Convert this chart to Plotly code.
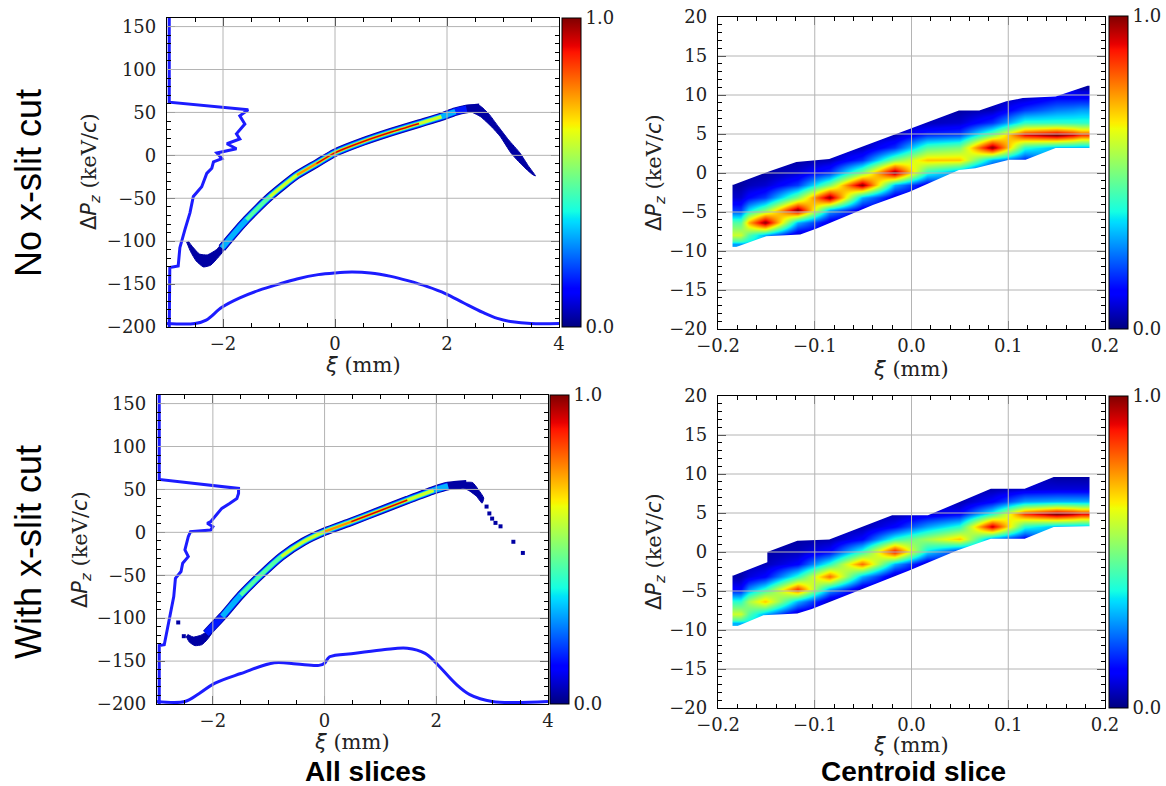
import plotly.graph_objects as go

W, H = 1166, 786

# matplotlib-like "jet" colour scale
JET = [[0.0, 'rgb(0,0,128)'], [0.11, 'rgb(0,0,255)'], [0.125, 'rgb(0,0,255)'],
       [0.34, 'rgb(0,219,255)'], [0.35, 'rgb(0,229,247)'], [0.375, 'rgb(21,255,226)'],
       [0.64, 'rgb(238,255,8)'], [0.65, 'rgb(247,245,0)'], [0.66, 'rgb(255,236,0)'],
       [0.89, 'rgb(255,19,0)'], [0.91, 'rgb(232,0,0)'], [1.0, 'rgb(128,0,0)']]

# ------------------------------------------------------------------ data
# Top-left panel (no x-slit cut, all slices): beam core centre line + peak density
tl_core_xi = [-2.02, -1.80, -1.58, -1.37, -1.16, -0.92, -0.68, -0.33, 0.00, 0.50, 1.00, 1.50, 1.90, 2.15, 2.35, 2.58]
tl_core_pz = [-108, -91, -75, -61, -48, -35, -23, -9.6, 3.0, 16, 27, 37, 45, 51, 54, 55.5]
tl_core_peak = [0.28, 0.35, 0.42, 0.50, 0.60, 0.68, 0.75, 0.85, 0.90, 0.92, 0.92, 0.88, 0.60, 0.40, 0.20, 0.05]
# low-density hook (head) and tail outlines
tl_hook_xi = [-2.65, -2.58, -2.48, -2.35, -2.22, -2.10, -1.98, -2.00, -2.12, -2.28, -2.42, -2.55, -2.62]
tl_hook_pz = [-101, -112, -123, -130, -128, -120, -110, -102, -110, -116, -115, -106, -100]
tl_tail_xi = [2.30, 2.58, 2.75, 2.90, 3.10, 3.30, 3.45, 3.58, 3.52, 3.35, 3.15, 2.95, 2.80, 2.60, 2.45, 2.30]
tl_tail_pz = [58, 58, 48, 35, 18, 3, -12, -24, -22, -12, 2, 22, 33, 45, 50, 50]
# projections (left: ΔPz profile, bottom: ξ profile)
tl_ppz_xi = [-2.96, -2.96, -2.95, -2.80, -2.77, -2.68, -2.59, -2.53, -2.38, -2.29, -2.20, -2.17, -2.02, -2.11,
             -1.76, -1.93, -1.70, -1.76, -1.61, -1.70, -1.55, -2.96, -2.96]
tl_ppz_pz = [-200, -131, -130.7, -128.8, -107.6, -86.5, -67, -48, -36.5, -21, -15, -7.7, -3.8, 2.7,
             7.7, 13.5, 19, 25, 36.5, 46, 53, 62, 160]
tl_pxi_xi = [-3.0, -2.5, -2.3, -2.02, -1.7, -1.35, -1.0, -0.68, -0.3, 0.0, 0.3, 0.63, 1.0, 1.3, 1.65, 1.97,
             2.3, 2.64, 2.9, 3.17, 3.5, 4.0]
tl_pxi_pz = [-196, -196, -192, -177, -166, -157, -150, -144, -139, -137, -136, -137, -141, -146, -153, -161,
             -172, -183, -190, -194, -196, -196]

# Bottom-left panel (with x-slit cut, all slices)
bl_core_xi = [-2.12, -1.83, -1.50, -1.17, -0.77, -0.38, 0.00, 0.48, 1.02, 1.48, 1.95, 2.21, 2.54]
bl_core_pz = [-118, -98, -73, -51.5, -28, -11, 0.8, 12.4, 26, 37.6, 49, 54, 56]
bl_core_peak = [0.15, 0.30, 0.42, 0.50, 0.55, 0.62, 0.75, 0.85, 0.90, 0.85, 0.55, 0.30, 0.05]
bl_hook_xi = [-2.48, -2.42, -2.32, -2.20, -2.10, -2.02, -2.10, -2.22, -2.35, -2.45]
bl_hook_pz = [-121, -128, -132, -131, -125, -117, -116, -120, -122, -119]
bl_tail_xi = [2.45, 2.65, 2.75, 2.85, 2.82, 2.72, 2.60, 2.45]
bl_tail_pz = [58, 58, 50, 40, 34, 42, 48, 53]
bl_dots_xi = [-2.62, -2.52, 2.90, 2.95, 3.00, 3.06, 3.15, 3.38, 3.55]
bl_dots_pz = [-105, -121, 30, 22, 16, 11, 7, -11, -24]
bl_ppz_xi = [-2.96, -2.96, -2.87, -2.84, -2.77, -2.70, -2.67, -2.57, -2.54, -2.44, -2.50, -2.47, -2.44, -2.40,
             -2.04, -2.00, -2.10, -2.04, -1.97, -1.84, -1.70, -1.57, -1.54, -1.54, -2.96, -2.96]
bl_ppz_pz = [-200, -132, -131, -121, -102, -74.8, -53.5, -45.7, -36, -28.3, -20.5, -12.8, -5, 0.8,
             2.7, 6.6, 10.5, 12.4, 18.2, 27.9, 33.7, 39.5, 45.3, 51.2, 61.6, 160]
bl_pxi_xi = [-3.0, -2.5, -2.25, -1.97, -1.5, -0.9, -0.5, -0.1, 0.0, 0.09, 0.55, 1.08, 1.48, 1.8, 2.0, 2.34,
             2.6, 3.0, 4.0]
bl_pxi_pz = [-197, -197, -188, -176, -164.5, -152, -153.5, -155, -152.5, -145, -141, -136.5, -135, -141,
             -152.5, -176, -189, -197, -197]

# Centroid-slice panels: coarse 2-D histogram (bin centres, first filled row per column, values)
cs_xi = [-0.185, -0.1515, -0.118, -0.0845, -0.051, -0.0175, 0.016, 0.0495, 0.083, 0.1165, 0.15, 0.1835]
cs_pz = [-9.5, -7.9, -6.3, -4.7, -3.1, -1.5, 0.1, 1.7, 3.3, 4.9, 6.5, 8.1, 9.7, 11.3]
tr_start = [0, 1, 1, 2, 3, 4, 5, 6, 6, 7, 8, 8]
tr_vals = [
    [0.28, 0.60, 0.45, 0.18, 0.07, 0.03],
    [0.30, 1.00, 0.50, 0.18, 0.07, 0.03],
    [0.05, 0.30, 1.00, 0.50, 0.18, 0.07, 0.03],
    [0.08, 0.30, 1.00, 0.50, 0.17, 0.05],
    [0.08, 0.30, 1.00, 0.50, 0.17, 0.05],
    [0.08, 0.30, 1.00, 0.50, 0.17, 0.05],
    [0.08, 0.40, 0.70, 0.45, 0.17, 0.05],
    [0.25, 0.70, 0.50, 0.20, 0.07, 0.03],
    [0.05, 0.30, 1.00, 0.50, 0.17, 0.05],
    [0.15, 0.40, 0.90, 0.40, 0.18, 0.06],
    [0.30, 1.00, 0.40, 0.25, 0.12],
    [0.30, 0.85, 0.40, 0.28, 0.12, 0.03],
]
# outline of the filled region (upper / lower edge)
tr_up_xi = [-0.184, -0.143, -0.119, -0.085, -0.040, -0.002, 0.049, 0.070, 0.098, 0.115, 0.149, 0.182]
tr_up_pz = [-1.5, 0.4, 1.4, 1.8, 3.9, 5.6, 8.0, 8.0, 9.2, 9.6, 9.8, 11.2]
tr_lo_xi = [-0.184, -0.150, -0.115, -0.098, -0.040, -0.002, 0.049, 0.066, 0.090, 0.101, 0.118, 0.149, 0.182]
tr_lo_pz = [-9.6, -8.1, -7.9, -7.1, -4.1, -2.4, 0.4, 0.6, 1.3, 1.7, 1.7, 3.2, 3.2]

br_start = [0, 1, 1, 2, 3, 4, 5, 6, 7, 7, 8, 8]
br_vals = [
    [0.30, 0.60, 0.40, 0.12, 0.04],
    [0.30, 0.70, 0.40, 0.12, 0.05, 0.03],
    [0.05, 0.30, 0.85, 0.40, 0.12, 0.05, 0.03],
    [0.05, 0.30, 0.80, 0.40, 0.12, 0.04],
    [0.05, 0.30, 0.80, 0.40, 0.12, 0.04],
    [0.05, 0.30, 0.90, 0.40, 0.12, 0.04],
    [0.05, 0.35, 0.55, 0.28, 0.08],
    [0.15, 0.70, 0.40, 0.12, 0.04],
    [0.25, 0.95, 0.40, 0.12, 0.04],
    [0.10, 0.40, 0.85, 0.28, 0.07],
    [0.30, 1.00, 0.30, 0.08, 0.03],
    [0.30, 0.90, 0.30, 0.08, 0.03],
]
br_up_xi = [-0.184, -0.149, -0.149, -0.118, -0.085, -0.020, 0.017, 0.082, 0.117, 0.147, 0.182]
br_up_pz = [-3.0, -1.3, 0.0, 1.45, 1.6, 4.7, 4.7, 8.1, 8.1, 9.6, 9.6]
br_lo_xi = [-0.184, -0.153, -0.118, -0.103, -0.049, -0.003, 0.047, 0.082, 0.117, 0.147, 0.182]
br_lo_pz = [-9.7, -8.1, -7.9, -7.3, -4.7, -2.4, 0.2, 1.7, 1.7, 3.2, 3.3]

# ------------------------------------------------------------------ helpers
def jet(v):
    for (a, ca), (b, cb) in zip(JET[:-1], JET[1:]):
        if a <= v <= b:
            f = 0 if b == a else (v - a) / (b - a)
            pa = [int(t) for t in ca[4:-1].split(',')]
            pb = [int(t) for t in cb[4:-1].split(',')]
            return 'rgb(%d,%d,%d)' % tuple(round(p + f * (q - p)) for p, q in zip(pa, pb))
    return JET[-1][1]


def build_z(starts, cols, nrows):
    """Place each column's values; pad one cell either side with the edge value
    (the outline mask below trims the region to its true edge)."""
    z = [[None] * len(cols) for _ in range(nrows)]
    for j, (s, vals) in enumerate(zip(starts, cols)):
        for k, v in enumerate(vals):
            z[s + k][j] = v
        if s - 1 >= 0:
            z[s - 1][j] = vals[0]
        if s + len(vals) < nrows:
            z[s + len(vals)][j] = vals[-1]
    return z


def edges(c):
    return [c[0]] + [(a + b) / 2 for a, b in zip(c[:-1], c[1:])] + [c[-1]]


NAVY = jet(0.03)
PROJ = 'rgb(28,28,255)'
BAND_LAYERS = [(0.0, 8.5, 0.03), (0.15, 7.0, 0.15), (0.28, 5.5, 0.3), (0.42, 4.0, 0.45),
               (0.55, 3.0, 0.6), (0.7, 2.2, 0.76), (0.82, 1.3, 0.93)]

fig = go.Figure()


def add_band(xa, ya, xi, pz, peak):
    for thr, w, lev in BAND_LAYERS:
        xs, ys, run = [], [], []
        for a, b, p in list(zip(xi, pz, peak)) + [(None, None, -1)]:
            if p >= thr:
                run.append((a, b))
            else:
                if len(run) > 1:
                    xs += [r[0] for r in run] + [None]
                    ys += [r[1] for r in run] + [None]
                run = []
        if xs:
            fig.add_trace(go.Scatter(x=xs, y=ys, mode='lines', xaxis=xa, yaxis=ya, hoverinfo='skip',
                                     line=dict(color=jet(lev), width=w, shape='spline', smoothing=0.6)))


def add_poly(xa, ya, xi, pz):
    fig.add_trace(go.Scatter(x=xi, y=pz, mode='lines', fill='toself', fillcolor=NAVY, xaxis=xa, yaxis=ya,
                             line=dict(color=NAVY, width=1, shape='spline', smoothing=0.5), hoverinfo='skip'))


def add_proj(xa, ya, xi, pz, shape):
    fig.add_trace(go.Scatter(x=xi, y=pz, mode='lines', xaxis=xa, yaxis=ya, hoverinfo='skip',
                             line=dict(color=PROJ, width=3, shape=shape)))


def add_mask(xa, ya, xi, pz, beyond):
    xs = [-0.2] + list(xi) + [0.2, 0.2, -0.2]
    ys = [pz[0]] + list(pz) + [pz[-1], beyond, beyond]
    fig.add_trace(go.Scatter(x=xs, y=ys, mode='lines', fill='toself', fillcolor='white', xaxis=xa, yaxis=ya,
                             line=dict(width=0, color='white'), hoverinfo='skip'))


def cbar(xpx, top, bot):
    return dict(x=xpx / W, xanchor='left', xpad=0, thickness=19, lenmode='fraction',
                len=(bot - top) / H, y=1 - (top + bot) / 2 / H, yanchor='middle', ypad=0,
                outlinewidth=1, outlinecolor='black', ticks='inside', ticklen=5, tickcolor='black',
                tickvals=[0, 1.0], ticktext=['0.0', '1.0'],
                tickfont=dict(family='DejaVu Serif', size=18, color='#222'))


# ---- left panels
for xa, ya, core, hook, tail, ppz, pxi, cb in [
    ('x', 'y', (tl_core_xi, tl_core_pz, tl_core_peak), (tl_hook_xi, tl_hook_pz), (tl_tail_xi, tl_tail_pz),
     (tl_ppz_xi, tl_ppz_pz), (tl_pxi_xi, tl_pxi_pz), cbar(562, 18, 327)),
    ('x3', 'y3', (bl_core_xi, bl_core_pz, bl_core_peak), (bl_hook_xi, bl_hook_pz), (bl_tail_xi, bl_tail_pz),
     (bl_ppz_xi, bl_ppz_pz), (bl_pxi_xi, bl_pxi_pz), cbar(550, 395, 704)),
]:
    add_proj(xa, ya, *ppz, 'linear')
    add_proj(xa, ya, *pxi, 'spline')
    add_poly(xa, ya, *hook)
    add_poly(xa, ya, *tail)
    add_band(xa, ya, *core)
    # colour bar carrier
    fig.add_trace(go.Scatter(x=[-10], y=[-1000], mode='markers', xaxis=xa, yaxis=ya, hoverinfo='skip',
                             marker=dict(color=[0.5], cmin=0, cmax=1, colorscale=JET, showscale=True,
                                         colorbar=cb, size=1)))

fig.add_trace(go.Scatter(x=bl_dots_xi, y=bl_dots_pz, mode='markers', xaxis='x3', yaxis='y3', hoverinfo='skip',
                         marker=dict(color=NAVY, size=4, symbol='square')))

# ---- centroid slice panels
for xa, ya, starts, vals, up, lo, cb in [
        ('x2', 'y2', tr_start, tr_vals, (tr_up_xi, tr_up_pz), (tr_lo_xi, tr_lo_pz), cbar(1109, 16, 329)),
        ('x4', 'y4', br_start, br_vals, (br_up_xi, br_up_pz), (br_lo_xi, br_lo_pz), cbar(1109, 396, 708))]:
    fig.add_trace(go.Heatmap(x=edges(cs_xi), y=edges(cs_pz), z=build_z(starts, vals, len(cs_pz)),
                             zsmooth='best', colorscale=JET, zmin=0, zmax=1, colorbar=cb,
                             xaxis=xa, yaxis=ya, hoverinfo='skip'))
    add_mask(xa, ya, *up, 14)
    add_mask(xa, ya, *lo, -12)

# ------------------------------------------------------------------ axes
TICKFONT = dict(family='DejaVu Serif', size=18, color='#222')


def ax(dom, rng, dtick, mdtick, anchor, fmt=None, standoff=0):
    d = dict(domain=dom, range=rng, anchor=anchor, showgrid=False, zeroline=False, showline=True,
             linecolor='black', linewidth=1.3, mirror='allticks', ticks='inside', ticklen=8, tickwidth=1,
             tickcolor='black', tick0=0, dtick=dtick, tickfont=TICKFONT, fixedrange=True,
             ticklabelstandoff=standoff,
             minor=dict(ticks='inside', ticklen=4, tickwidth=1, tickcolor='black', dtick=mdtick, tick0=0,
                        showgrid=False))
    if fmt:
        d['tickformat'] = fmt
    return d


def xdom(a, b):
    return [a / W, b / W]


def ydom(top, bot):
    return [1 - bot / H, 1 - top / H]


fig.update_layout(
    width=W, height=H, margin=dict(l=0, r=0, t=0, b=0, autoexpand=False), paper_bgcolor='white',
    plot_bgcolor='white', showlegend=False,
    xaxis=ax(xdom(167, 559), [-3, 4], 2, 0.5, 'y'),
    yaxis=ax(ydom(18, 327), [-200, 160], 50, 10, 'x', standoff=6),
    xaxis2=ax(xdom(718, 1105), [-0.2, 0.2], 0.1, 0.02, 'y2', '.1f'),
    yaxis2=ax(ydom(17, 329), [-20, 20], 5, 1, 'x2', standoff=6),
    xaxis3=ax(xdom(157, 548), [-3, 4], 2, 0.5, 'y3'),
    yaxis3=ax(ydom(395, 704), [-200, 160], 50, 10, 'x3', standoff=6),
    xaxis4=ax(xdom(718, 1105), [-0.2, 0.2], 0.1, 0.02, 'y4', '.1f'),
    yaxis4=ax(ydom(396, 708), [-20, 20], 5, 1, 'x4', standoff=6),
)

# grid lines drawn above the density images
GRID = dict(color='rgb(180,180,180)', width=1)
shapes = []
for xr, yr, xs, ys, xrng, yrng in [
    ('x', 'y', [-2, 0, 2], [-150, -100, -50, 0, 50, 100, 150], [-3, 4], [-200, 160]),
    ('x3', 'y3', [-2, 0, 2], [-150, -100, -50, 0, 50, 100, 150], [-3, 4], [-200, 160]),
    ('x2', 'y2', [-0.1, 0, 0.1], [-15, -10, -5, 0, 5, 10, 15], [-0.2, 0.2], [-20, 20]),
    ('x4', 'y4', [-0.1, 0, 0.1], [-15, -10, -5, 0, 5, 10, 15], [-0.2, 0.2], [-20, 20]),
]:
    for v in xs:
        shapes.append(dict(type='line', xref=xr, yref=yr, x0=v, x1=v, y0=yrng[0], y1=yrng[1], line=GRID,
                           layer='above'))
    for v in ys:
        shapes.append(dict(type='line', xref=xr, yref=yr, x0=xrng[0], x1=xrng[1], y0=v, y1=v, line=GRID,
                           layer='above'))
fig.update_layout(shapes=shapes)

# ------------------------------------------------------------------ text
YT = ('<span style="font-family:DejaVu Sans">Δ</span>'
      '<span style="font-family:DejaVu Sans;font-style:italic">P</span>'
      '<sub><span style="font-family:DejaVu Sans;font-style:italic">z</span></sub> (keV/'
      '<span style="font-family:DejaVu Sans;font-style:italic">c</span>)')
XT = '<span style="font-family:DejaVu Sans;font-style:italic">ξ</span> (mm)'
TF = dict(family='DejaVu Serif', size=21, color='#222')
TFX = dict(family='DejaVu Serif', size=21, color='#222')
ann = []
for x, y, t, ang, f in [(90, 172, YT, -90, TF), (655, 173, YT, -90, TF), (81, 550, YT, -90, TF),
                        (655, 552, YT, -90, TF),
                        (363, 365, XT, 0, TFX), (911, 369, XT, 0, TFX), (352, 742, XT, 0, TFX),
                        (911, 745, XT, 0, TFX)]:
    ann.append(dict(x=x / W, y=1 - y / H, xref='paper', yref='paper', text=t, showarrow=False,
                    textangle=ang, font=f, xanchor='center', yanchor='middle'))
for x, y, t, ang, f in [
    (28, 183, 'No x-slit cut', -90, dict(family='Liberation Sans', size=36, color='black')),
    (28, 552, 'With x-slit cut', -90, dict(family='Liberation Sans', size=36, color='black')),
    (365, 771, '<b>All slices</b>', 0, dict(family='Liberation Sans', size=28, color='black')),
    (913, 771, '<b>Centroid slice</b>', 0, dict(family='Liberation Sans', size=28, color='black')),
]:
    ann.append(dict(x=x / W, y=1 - y / H, xref='paper', yref='paper', text=t, showarrow=False,
                    textangle=ang, font=f, xanchor='center', yanchor='middle'))
fig.update_layout(annotations=ann)

fig.write_html('out.html')
